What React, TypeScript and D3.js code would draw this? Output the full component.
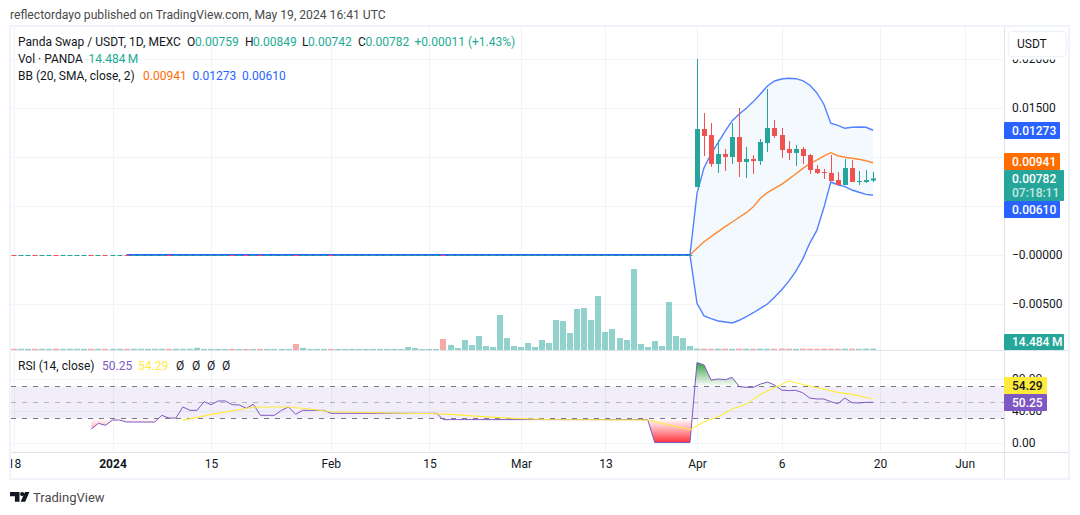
import React from 'react';
import { select, scaleLinear, axisRight, axisBottom, line, area, curveLinear } from 'd3';

// first candle with real prices is index 83 (Apr), index 0 is 2024
const firstIndex = -14;
const firstCandle = 83;

const opens = [0.00694, 0.01286, 0.01224, 0.00929, 0.01031, 0.01, 0.01204, 0.00949, 0.0098, 0.00959, 0.01143, 0.01296, 0.01224, 0.01082, 0.01041, 0.01082, 0.0102, 0.00878, 0.00847, 0.00837, 0.00765, 0.00714, 0.00888, 0.00745, 0.00745, 0.00759];
const highs = [0.02, 0.01449, 0.01347, 0.01173, 0.01082, 0.01347, 0.015, 0.01102, 0.0102, 0.01184, 0.01694, 0.01378, 0.01296, 0.01163, 0.01122, 0.01102, 0.01031, 0.00918, 0.00878, 0.0102, 0.00847, 0.0098, 0.00969, 0.00857, 0.00867, 0.00849];
const lows = [0.00694, 0.0101, 0.00898, 0.00837, 0.00857, 0.00929, 0.00796, 0.00786, 0.00827, 0.00918, 0.01051, 0.01194, 0.0099, 0.00969, 0.00908, 0.00929, 0.00827, 0.00827, 0.00776, 0.00755, 0.00714, 0.00714, 0.00745, 0.00714, 0.00735, 0.00742];
const closes = [0.01286, 0.01214, 0.00929, 0.01031, 0.01, 0.01204, 0.00949, 0.0098, 0.00959, 0.01153, 0.01296, 0.01214, 0.01071, 0.01041, 0.01082, 0.0101, 0.00867, 0.00837, 0.00837, 0.00755, 0.00714, 0.00888, 0.00745, 0.00755, 0.00765, 0.00782];

// flat days before listing, marked down (red) on these indexes
const flatDown = [-14, -11, -8, -3, -1, 2, 8, 17, 19, 21, 26, 31, 47];

const volumes = [
  12, 12, 12, 12, 12, 12, 12, 12, 12, 12, 12, 12, 12, 12, 12, 12, 12, 12, 12, 12, 12, 12, 12, 12, 12, 12,
  22, 11, 11, 11, 11, 11, 11, 11, 11, 11, 11, 11, 11, 11, 60, 22, 11, 11, 11, 11, 11, 11, 11, 11, 11, 11, 11, 11, 11,
  10, 30, 20, 10, 10, 10, 110, 50, 20, 100, 50, 140, 40, 30, 350, 120, 40, 30, 70, 30, 100, 70, 300, 290, 170, 410,
  420, 300, 540, 180, 210, 120, 100, 810, 60, 30, 90, 40, 480, 140, 120, 40,
  14, 13, 12, 14, 13, 12, 14, 13, 12, 14, 13, 12, 14, 13, 12, 14, 13, 12, 14, 13, 12, 14, 13, 12, 14, 14.484,
];

// Bollinger bands, from index 2 (all zero up to index 82)
const bbStart = 83;
const bbBasis = [0.00068, 0.00136, 0.00187, 0.00238, 0.00289, 0.00337, 0.00385, 0.00432, 0.00493, 0.00579, 0.00636, 0.00679, 0.00721, 0.00772, 0.00827, 0.00881, 0.00932, 0.00969, 0.0101, 0.01044, 0.01013, 0.00997, 0.00987, 0.00977, 0.00962, 0.00941];
const bbUpper = [0.00629, 0.00891, 0.01031, 0.01146, 0.01265, 0.01371, 0.01439, 0.01497, 0.01565, 0.01643, 0.01724, 0.01776, 0.01796, 0.01803, 0.01799, 0.01779, 0.01735, 0.01656, 0.01541, 0.01344, 0.01323, 0.01293, 0.01303, 0.01306, 0.01303, 0.01273];
const bbLower = [-0.00493, -0.00622, -0.0065, -0.00673, -0.00684, -0.00694, -0.00666, -0.0063, -0.00589, -0.00544, -0.005, -0.00432, -0.00357, -0.00272, -0.0017, -0.00044, 0.00119, 0.00248, 0.00479, 0.00745, 0.00717, 0.00697, 0.00663, 0.0064, 0.00619, 0.0061];
const bbFlatFrom = 2;
const bbFlatTo = 82;

// RSI from index -3
const rsiStart = -3;
const rsiValues = [
  16.9, 24, 21.5, 28.1, 28.1, 25.6, 25.6, 25.6, 25.6, 25.6, 34, 30.6, 30.6, 44.4, 40.2, 40.2, 51, 47.3, 51.9, 51.9,
  47.3, 46.9, 42.7, 47.8, 34, 34, 34, 40.2, 44.4, 35.2, 40.2, 40.2, 40.2, 40.2,
  36.5, 36.5, 36.5, 36.5, 36.5, 36.5, 36.5, 36.5, 36.5, 36.5, 36.5, 36.5, 36.5, 36.5, 36.5, 36.5,
  28.6, 28.6, 28.6, 28.6, 28.6, 28.6, 28.6, 28.6, 28.6, 28.6, 28.6, 28.6, 28.6, 28.6, 28.6,
  28.6, 28.6, 28.6, 28.6, 28.6, 28.6, 28.6, 28.6, 28.6, 28.6, 28.6, 28.6, 28.6, 28.6, 28.6,
  0, 0, 0, 0, 0, 0,
  100, 96.9, 78, 79.4, 78.5, 81.4, 69.8, 69, 69, 73, 75.6, 71.9, 65.6, 64.8, 65.2, 62.3, 55.6, 54.4, 54.4, 51, 48.5, 55.6, 49.8, 49.4, 50.2, 50.25,
];
const rsiMaIndex = [10, 14, 20, 23, 25, 28, 31, 43, 45, 48, 52, 57, 62, 76, 82, 84, 86, 88, 90, 92, 96, 99, 103, 105, 108];
const rsiMaValues = [27.7, 35.2, 44, 44.4, 44.4, 41.8, 38.5, 36.2, 36.2, 35.2, 32.7, 30.2, 28.8, 28.1, 16, 26, 32.3, 41.9, 47.7, 60.2, 76.9, 70.6, 62.7, 60.2, 54.29];

const priceTicks = [0.02, 0.015, 0.01, 0.005, 0, -0.005];
const priceTickLabels = ['0.02000', '0.01500', '', '', '\u22120.00000', '\u22120.00500'];
const rsiTicks = [80, 40, 0];
const rsiTickLabels = ['80.00', '40.00', '0.00'];
const timeTicks = [-14, 0, 14, 31, 45, 58, 70, 83, 95, 109, 121];
const timeLabels = ['18', '2024', '15', 'Feb', '15', 'Mar', '13', 'Apr', '6', '20', 'Jun'];

const UP = '#26a69a';
const DOWN = '#ef5350';
const BLUE = '#2962ff';
const ORANGE = '#ff6d00';
const PURPLE = '#7e57c2';
const YELLOW = '#ffeb3b';
const FONT = 'Roboto, "Noto Sans", sans-serif';

const App: React.FC = () => {
  const ref = React.useRef<SVGSVGElement>(null);

  React.useEffect(() => {
    const svg = select(ref.current);
    svg.selectAll('*').remove();

    const x = scaleLinear().domain([0, firstCandle]).range([112.5, 697]);
    const yPrice = scaleLinear().domain([-0.005, 0.02]).range([304, 59]);
    const yVol = scaleLinear().domain([0, 810]).range([350, 269]);
    const yRsi = scaleLinear().domain([0, 100]).range([442.5, 362.5]);

    const defs = svg.append('defs');
    const clip = (id, px, py, w, h) =>
      defs.append('clipPath').attr('id', id).append('rect').attr('x', px).attr('y', py).attr('width', w).attr('height', h);
    clip('mainClip', 11, 27, 993, 323);
    clip('rsiClip', 11, 351, 993, 101);
    clip('timeClip', 11, 0, 993, 25);
    clip('obClip', 11, 351, 993, yRsi(70) - 351);
    clip('osClip', 11, yRsi(30), 993, 452 - yRsi(30));

    const gradient = (id, y1, y2, c1, o1, c2, o2) => {
      const g = defs.append('linearGradient').attr('id', id).attr('gradientUnits', 'userSpaceOnUse')
        .attr('x1', 0).attr('x2', 0).attr('y1', y1).attr('y2', y2);
      g.append('stop').attr('offset', 0).attr('stop-color', c1).attr('stop-opacity', o1);
      g.append('stop').attr('offset', 1).attr('stop-color', c2).attr('stop-opacity', o2);
    };
    gradient('obGrad', yRsi(100), yRsi(70), '#2e9e3f', 1, '#4caf50', 0);
    gradient('osGrad', yRsi(30), yRsi(0), '#ff5252', 0, '#ff3040', 1);

    svg.append('rect').attr('width', 1080).attr('height', 515).attr('fill', '#ffffff');

    // top caption
    svg.append('text').attr('x', 10).attr('y', 15).attr('dominant-baseline', 'central')
      .attr('font-family', FONT).attr('font-size', 12.15).attr('fill', '#4a4a4a')
      .text('reflectordayo published on TradingView.com, May 19, 2024 16:41 UTC');

    // grid
    const grid = svg.append('g').attr('stroke', '#f0f3fa').attr('stroke-width', 1);
    timeTicks.forEach(t => {
      grid.append('line').attr('x1', Math.round(x(t)) + 0.5).attr('x2', Math.round(x(t)) + 0.5).attr('y1', 27).attr('y2', 452);
    });
    priceTicks.forEach(t => {
      grid.append('line').attr('x1', 11).attr('x2', 1004).attr('y1', Math.round(yPrice(t)) + 0.5).attr('y2', Math.round(yPrice(t)) + 0.5);
    });
    rsiTicks.forEach(t => {
      grid.append('line').attr('x1', 11).attr('x2', 1004).attr('y1', Math.round(yRsi(t)) + 0.5).attr('y2', Math.round(yRsi(t)) + 0.5);
    });

    const main = svg.append('g').attr('clip-path', 'url(#mainClip)');

    // bollinger bands
    const bbIdx = bbUpper.map((_, i) => bbStart + i);
    const fillIdx = [bbStart - 1, ...bbIdx];
    const val = (arr, i) => (i < bbStart ? 0 : arr[i - bbStart]);
    main.append('path').attr('fill', '#f4f9fe')
      .attr('d', area<number>().x(d => x(d)).y0(d => yPrice(val(bbLower, d))).y1(d => yPrice(val(bbUpper, d)))(fillIdx));
    const bbLine = (arr) => line<number>().x(d => x(d)).y(d => yPrice(val(arr, d))).curve(curveLinear)([bbStart - 1, ...bbIdx]);
    main.append('path').attr('d', bbLine(bbBasis)).attr('fill', 'none').attr('stroke', ORANGE).attr('stroke-opacity', 0.8).attr('stroke-width', 1.4);
    main.append('path').attr('d', bbLine(bbUpper)).attr('fill', 'none').attr('stroke', BLUE).attr('stroke-opacity', 0.8).attr('stroke-width', 1.4);
    main.append('path').attr('d', bbLine(bbLower)).attr('fill', 'none').attr('stroke', BLUE).attr('stroke-opacity', 0.8).attr('stroke-width', 1.4);
    main.append('line').attr('x1', x(bbFlatFrom)).attr('x2', x(bbFlatTo)).attr('y1', yPrice(0)).attr('y2', yPrice(0))
      .attr('stroke', BLUE).attr('stroke-width', 2);

    // volume
    const isDown = (idx) => idx < firstCandle
      ? flatDown.includes(idx)
      : closes[idx - firstCandle] < opens[idx - firstCandle];
    main.append('g').selectAll('rect').data(volumes).join('rect')
      .attr('x', (_, i) => Math.round(x(firstIndex + i)) - 3)
      .attr('width', 6)
      .attr('y', d => yVol(d))
      .attr('height', d => 350 - yVol(d))
      .attr('fill', (_, i) => (isDown(firstIndex + i) ? DOWN : UP))
      .attr('fill-opacity', 0.5);

    // flat candles before the listing
    const flatIdx = volumes.map((_, i) => firstIndex + i).filter(i => i < firstCandle);
    main.append('g').selectAll('rect').data(flatIdx).join('rect')
      .attr('x', d => Math.round(x(d)) - 2.5)
      .attr('width', 5)
      .attr('y', yPrice(0))
      .attr('height', 1)
      .attr('fill', d => (isDown(d) ? DOWN : UP));

    // candles
    const candles = main.append('g').selectAll('g').data(opens).join('g');
    candles.append('line')
      .attr('x1', (_, i) => Math.round(x(firstCandle + i)) + 0.5)
      .attr('x2', (_, i) => Math.round(x(firstCandle + i)) + 0.5)
      .attr('y1', (_, i) => yPrice(highs[i]))
      .attr('y2', (_, i) => yPrice(lows[i]))
      .attr('stroke', (_, i) => (closes[i] < opens[i] ? DOWN : UP));
    candles.append('rect')
      .attr('x', (_, i) => Math.round(x(firstCandle + i)) - 2)
      .attr('width', 5)
      .attr('y', (d, i) => yPrice(Math.max(d, closes[i])))
      .attr('height', (d, i) => Math.max(1, Math.abs(yPrice(d) - yPrice(closes[i]))))
      .attr('fill', (_, i) => (closes[i] < opens[i] ? DOWN : UP));

    // rsi pane
    const rsi = svg.append('g').attr('clip-path', 'url(#rsiClip)');
    rsi.append('rect').attr('x', 11).attr('width', 993).attr('y', yRsi(70)).attr('height', yRsi(30) - yRsi(70))
      .attr('fill', PURPLE).attr('fill-opacity', 0.1);
    [70, 50, 30].forEach(level => {
      rsi.append('line').attr('x1', 11).attr('x2', 1004).attr('y1', yRsi(level)).attr('y2', yRsi(level))
        .attr('stroke', '#787b86').attr('stroke-opacity', level === 50 ? 0.5 : 1)
        .attr('stroke-dasharray', '5 6');
    });
    const rsiIdx = rsiValues.map((_, i) => rsiStart + i);
    rsi.append('path').attr('clip-path', 'url(#obClip)').attr('fill', 'url(#obGrad)')
      .attr('d', area<number>().x(d => x(d)).y0(yRsi(70)).y1(d => yRsi(rsiValues[d - rsiStart]))(rsiIdx));
    rsi.append('path').attr('clip-path', 'url(#osClip)').attr('fill', 'url(#osGrad)')
      .attr('d', area<number>().x(d => x(d)).y0(yRsi(30)).y1(d => yRsi(rsiValues[d - rsiStart]))(rsiIdx));
    rsi.append('path').attr('fill', 'none').attr('stroke', PURPLE).attr('stroke-width', 1)
      .attr('d', line<number>().x(d => x(d)).y(d => yRsi(rsiValues[d - rsiStart]))(rsiIdx));
    rsi.append('path').attr('fill', 'none').attr('stroke', YELLOW).attr('stroke-width', 1.1)
      .attr('d', line<number>().x(d => x(d)).y((_, i) => yRsi(rsiMaValues[i]))(rsiMaIndex));

    // frame and pane separators
    svg.append('rect').attr('x', 10).attr('y', 26).attr('width', 1059).attr('height', 453)
      .attr('fill', 'none').attr('stroke', '#f0f3fa').attr('stroke-width', 2);
    const sep = svg.append('g').attr('stroke', '#e0e3eb');
    sep.append('line').attr('x1', 11).attr('x2', 1068).attr('y1', 350.5).attr('y2', 350.5);
    sep.append('line').attr('x1', 11).attr('x2', 1068).attr('y1', 452.5).attr('y2', 452.5);
    sep.append('line').attr('x1', 1004.5).attr('x2', 1004.5).attr('y1', 27).attr('y2', 478);

    // axes
    const styleAxis = (g, size) => {
      g.select('.domain').remove();
      g.selectAll('text').attr('font-family', FONT).attr('font-size', size).attr('fill', '#131722');
      g.selectAll('line').remove();
    };
    svg.append('g').attr('transform', 'translate(1004,0)')
      .call(axisRight(yPrice).tickValues(priceTicks).tickSize(0).tickPadding(8).tickFormat((_, i) => priceTickLabels[i]))
      .call(g => styleAxis(g, 12));
    svg.append('g').attr('transform', 'translate(1004,0)')
      .call(axisRight(yRsi).tickValues(rsiTicks).tickSize(0).tickPadding(8).tickFormat((_, i) => rsiTickLabels[i]))
      .call(g => styleAxis(g, 12));
    svg.append('g').attr('clip-path', 'url(#timeClip)').attr('transform', 'translate(0,453)')
      .call(axisBottom(x).tickValues(timeTicks).tickSize(0).tickPadding(6).tickFormat((_, i) => timeLabels[i]))
      .call(g => styleAxis(g, 12))
      .call(g => g.selectAll('text').filter((_, i) => timeLabels[i] === '2024').attr('font-weight', 700));

    // currency button, with the white margin that hides the top of the first tick
    svg.append('rect').attr('x', 1005).attr('y', 56).attr('width', 63).attr('height', 3.5).attr('fill', '#ffffff');
    svg.append('rect').attr('x', 1008.5).attr('y', 31.5).attr('width', 58).attr('height', 25).attr('rx', 4)
      .attr('fill', '#ffffff').attr('stroke', '#f0f3fa').attr('stroke-width', 1.5);
    svg.append('text').attr('x', 1017).attr('y', 44).attr('dominant-baseline', 'central')
      .attr('font-family', FONT).attr('font-size', 12).attr('fill', '#131722').text('USDT');

    // price tags
    const tag = (label, top, h, w, fill, color, extra?) => {
      svg.append('rect').attr('x', 1004).attr('y', top).attr('width', w).attr('height', h).attr('fill', fill).attr('rx', 1);
      svg.append('text').attr('x', 1012).attr('y', extra ? top + 8.5 : top + h / 2).attr('dominant-baseline', 'central')
        .attr('font-family', FONT).attr('font-size', 12).attr('font-weight', 500).attr('fill', color).text(label);
      if (extra) {
        svg.append('text').attr('x', 1012).attr('y', top + 23).attr('dominant-baseline', 'central')
          .attr('font-family', FONT).attr('font-size', 12).attr('font-weight', 500).attr('fill', '#ffffff').attr('fill-opacity', 0.75).text(extra);
      }
    };
    tag('0.01273', 122, 17, 56, BLUE, '#ffffff');
    tag('0.00610', 201, 17, 56, BLUE, '#ffffff');
    tag('0.00941', 153, 17, 56, ORANGE, '#ffffff');
    tag('0.00782', 170, 31, 60, UP, '#ffffff', '07:18:11');
    tag('14.484\u2009M', 334, 16, 60, UP, '#ffffff');
    tag('54.29', 377, 17, 43, YELLOW, '#131722');
    tag('50.25', 394, 17, 43, PURPLE, '#ffffff');

    // legends
    const legend = (items) => items.forEach(([txt, lx, ly, color]) => {
      svg.append('text').attr('x', lx).attr('y', ly).attr('dominant-baseline', 'central')
        .attr('font-family', FONT).attr('font-size', 12).attr('fill', color).text(txt);
    });
    const INK = '#131722';
    const VAL = '#22ab94';
    legend([
      ['Panda Swap / USDT, 1D, MEXC', 18, 42, INK],
      ['O', 187, 42, INK], ['0.00759', 195, 42, VAL],
      ['H', 245, 42, INK], ['0.00849', 253, 42, VAL],
      ['L', 302, 42, INK], ['0.00742', 308, 42, VAL],
      ['C', 358, 42, INK], ['0.00782', 365.5, 42, VAL],
      ['+0.00011 (+1.43%)', 414.5, 42, VAL],
      ['Vol \u00b7 PANDA', 18, 59, INK], ['14.484\u2009M', 88.5, 59, VAL],
      ['BB (20, SMA, close, 2)', 18, 76, INK],
      ['0.00941', 143, 76, ORANGE], ['0.01273', 192.5, 76, BLUE], ['0.00610', 242, 76, BLUE],
      ['RSI (14, close)', 18, 366, INK], ['50.25', 102, 366, PURPLE], ['54.29', 138, 366, YELLOW],
      ['\u00d8', 176, 366, INK], ['\u00d8', 192, 366, INK], ['\u00d8', 207, 366, INK], ['\u00d8', 222, 366, INK],
    ]);

    // footer logo
    svg.append('path').attr('fill', '#131722')
      .attr('d', 'M10 492h9.5v9.7h-4.6v-5.4H10z M25 492h4.4l-4.2 9.7h-4.6z');
    svg.append('circle').attr('cx', 22.2).attr('cy', 494.1).attr('r', 2.1).attr('fill', '#131722');
    svg.append('text').attr('x', 33).attr('y', 497).attr('dominant-baseline', 'central')
      .attr('font-family', FONT).attr('font-size', 13).attr('fill', '#4a4a4a').text('TradingView');
  }, []);

  return <svg ref={ref} width={1080} height={515} style={{ position: 'absolute', left: 0, top: 0 }} />;
};

export default App;
